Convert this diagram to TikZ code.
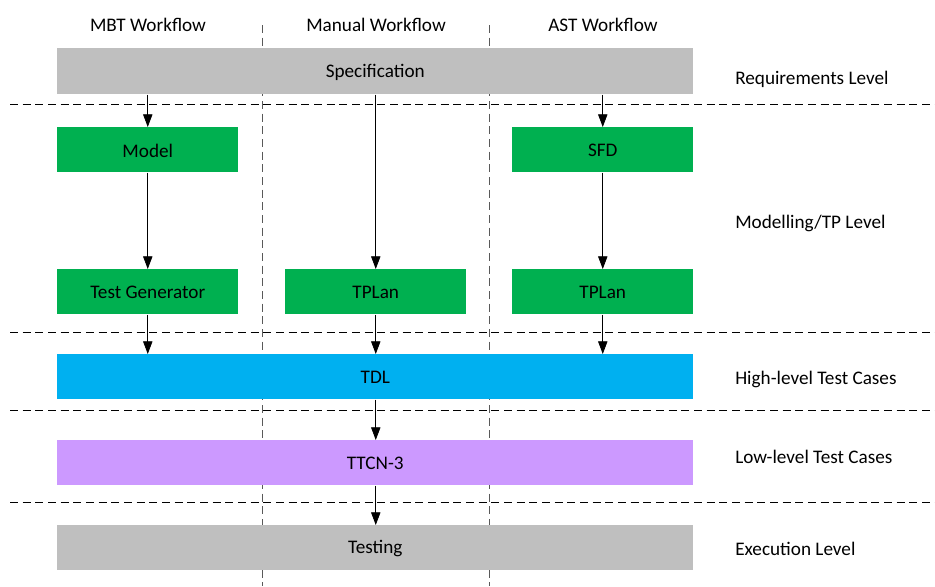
\documentclass[tikz,border=0pt]{standalone}
\usepackage{fontspec}
\setmainfont{Carlito}
\usetikzlibrary{arrows.meta}
\definecolor{cgray}{HTML}{BFBFBF}
\definecolor{cgreen}{HTML}{00B050}
\definecolor{cblue}{HTML}{00B0F0}
\definecolor{cpurple}{HTML}{CC99FF}
\tikzset{
  box/.style={draw=none, inner sep=0pt, anchor=north west},
  lbl/.style={inner sep=0pt, font=\fontsize{14.4}{17}\selectfont},
  arr/.style={-{Triangle[length=9.5pt,width=7pt]}, line width=0.6pt, black},
  hsep/.style={dashed, dash pattern=on 6pt off 3.5pt, line width=0.7pt, black},
  vsep/.style={dashed, dash pattern=on 6pt off 3.5pt, line width=0.7pt, black!65},
}
\begin{document}
\begin{tikzpicture}[x=0.75pt,y=-0.75pt]
\useasboundingbox (0,0) rectangle (935,586);
% vertical separators (behind boxes)
\coordinate (v1t) at (262,25); \coordinate (v1b) at (262,586);
\coordinate (v2t) at (489,25); \coordinate (v2b) at (489,586);
\draw[vsep] (v1t) -- (v1b);
\draw[vsep] (v2t) -- (v2b);
% horizontal separators
\foreach \yy/\nm in {104/a,332/b,410/c,502/d}{
  \coordinate (hl\nm) at (10,\yy); \coordinate (hr\nm) at (935,\yy);
  \draw[hsep] (hl\nm) -- (hr\nm);
}
% boxes
\node[box, fill=cgray, minimum width=636*0.75pt, minimum height=46*0.75pt] (spec) at (57,48) {};
\node[lbl] at ([yshift=-0.75pt]spec.center) {Specification};
\node[box, fill=cgreen, minimum width=181*0.75pt, minimum height=45*0.75pt] (model) at (57,127) {};
\node[lbl] at ([yshift=-0.75pt]model.center) {Model};
\node[box, fill=cgreen, minimum width=181*0.75pt, minimum height=45*0.75pt] (sfd) at (512,127) {};
\node[lbl] at ([yshift=-0.75pt]sfd.center) {SFD};
\node[box, fill=cgreen, minimum width=181*0.75pt, minimum height=45*0.75pt] (tg) at (57,269) {};
\node[lbl] at ([yshift=-0.75pt]tg.center) {Test Generator};
\node[box, fill=cgreen, minimum width=181*0.75pt, minimum height=45*0.75pt] (tp1) at (285,269) {};
\node[lbl] at ([yshift=-0.75pt]tp1.center) {TPLan};
\node[box, fill=cgreen, minimum width=181*0.75pt, minimum height=45*0.75pt] (tp2) at (512,269) {};
\node[lbl] at ([yshift=-0.75pt]tp2.center) {TPLan};
\node[box, fill=cblue, minimum width=636*0.75pt, minimum height=45*0.75pt] (tdl) at (57,354) {};
\node[lbl] at ([yshift=-0.75pt]tdl.center) {TDL};
\node[box, fill=cpurple, minimum width=636*0.75pt, minimum height=45*0.75pt] (ttcn) at (57,440) {};
\node[lbl] at ([yshift=-0.75pt]ttcn.center) {TTCN-3};
\node[box, fill=cgray, minimum width=636*0.75pt, minimum height=45*0.75pt] (test) at (57,525) {};
\node[lbl] at ([yshift=-0.75pt]test.center) {Testing};
% column headers
\node[lbl] (h1) at (148,25) {MBT Workflow};
\node[lbl] (h2) at (376,25) {Manual Workflow};
\node[lbl] (h3) at (603,25) {AST Workflow};
% level labels
\node[lbl, anchor=west] (l1) at (735,79) {Requirements Level};
\node[lbl, anchor=west] (l2) at (735,223) {Modelling/TP Level};
\node[lbl, anchor=west] (l3) at (735,379) {High-level Test Cases};
\node[lbl, anchor=west] (l4) at (735,457) {Low-level Test Cases};
\node[lbl, anchor=west] (l5) at (735,549) {Execution Level};
% arrows
\draw[arr] (spec.south -| model.north) -- (model.north);
\draw[arr] (spec.south -| tp1.north) -- (tp1.north);
\draw[arr] (spec.south -| sfd.north) -- (sfd.north);
\draw[arr] (model.south) -- (tg.north);
\draw[arr] (sfd.south) -- (tp2.north);
\draw[arr] (tg.south) -- (tdl.north -| tg.south);
\draw[arr] (tp1.south) -- (tdl.north -| tp1.south);
\draw[arr] (tp2.south) -- (tdl.north -| tp2.south);
\draw[arr] (tdl.south -| tp1.south) -- (ttcn.north -| tp1.south);
\draw[arr] (ttcn.south -| tp1.south) -- (test.north -| tp1.south);
\end{tikzpicture}
\end{document}
